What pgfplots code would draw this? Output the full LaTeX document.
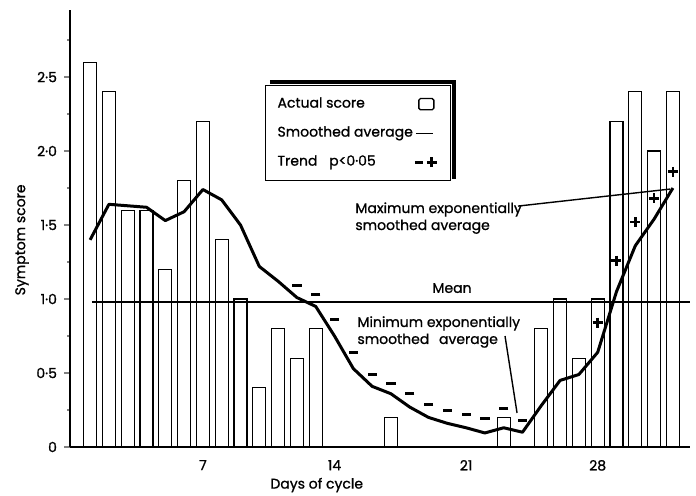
\documentclass[border=0pt]{standalone}
\usepackage{fontspec}
\setmainfont{Poppins}[UprightFeatures={FakeBold=1}]
\usepackage{pgfplots}
\pgfplotsset{compat=1.18}

\begin{document}
\begin{tikzpicture}
\path[use as bounding box] (0,0) rectangle (348pt,247.5pt);
\begin{axis}[
  at={(35pt,24pt)}, anchor=south west,
  scale only axis, width=310pt, height=218.5pt,
  xmin=-0.07, xmax=32.91, ymin=0, ymax=2.953,
  axis lines=left,
  axis line style={-, line width=1.3pt},
  xtick={7,14,21,28}, xticklabels={7,14,21,28},
  xtick style={draw=none},
  ytick={0,0.5,1,1.5,2,2.5}, yticklabels={0,0·5,1·0,1·5,2·0,2·5},
  minor ytick={0.25,0.75,1.25,1.75,2.25,2.75},
  ytick style={line width=0.8pt},
  tick align=outside, major tick length=3pt, minor tick length=1.5pt,
  ticklabel style={font=\fontsize{7}{8}\selectfont},
  xlabel={Days of cycle}, ylabel={Symptom score},
  xlabel style={at={(axis description cs:0.398,-0.087)}, anchor=center, font=\fontsize{7}{8}\selectfont},
  ylabel style={at={(axis description cs:-0.0774,0.474)}, anchor=center, font=\fontsize{7}{8}\selectfont},
  clip=false,
  legend style={name=leg, at={(axis cs:10.3,2.446)}, anchor=north west, draw=black, line width=0.6pt, fill=white,
    inner xsep=6pt, inner ysep=6pt, row sep=8pt, column sep=0pt,
    nodes={inner sep=0pt, text height=5pt, text depth=1.5pt, font=\fontsize{7}{8}\selectfont}},
  legend cell align=left, legend plot pos=right,
]
\addplot[ybar, bar width=0.69, bar shift=0pt, draw=black, fill=white, line width=0.65pt,
  legend image code/.code={\draw[line width=0.7pt, rounded corners=0.8pt, fill=white] (3pt,-2.8pt) rectangle (10.5pt,2.8pt); \path[draw=none,fill=none] (0pt,0pt) -- (13pt,0pt);}]
coordinates {(1,2.6) (2,2.4) (3,1.6) (4,1.6) (5,1.2) (6,1.8) (7,2.2) (8,1.4) (9,1.0) (10,0.4) (11,0.8) (12,0.6) (13,0.8) (17,0.2) (23,0.2) (25,0.8) (26,1.0) (27,0.6) (28,1.0) (29,2.2) (30,2.4) (31,2.0) (32,2.4)};
\addlegendentry{Actual score}
\addplot[line width=0.8pt, forget plot] coordinates {(1.1,0.98) (32.91,0.98)};
\addplot[line width=1.5pt, line join=round,
  legend image code/.code={\draw[line width=0.6pt] (1.5pt,0pt) -- (10pt,0pt); \path[draw=none,fill=none] (0pt,0pt) -- (13pt,0pt);}]
coordinates {(1,1.40) (2,1.64) (3,1.63) (4,1.62) (5,1.53) (6,1.59) (7,1.74) (8,1.67) (9,1.50) (10,1.22) (11,1.12) (12,1.01) (13,0.95) (14,0.75) (15,0.53) (16,0.41) (17,0.36) (18,0.27) (19,0.20) (20,0.16) (21,0.13) (22,0.095) (23,0.13) (24,0.10) (25,0.28) (26,0.45) (27,0.49) (28,0.64) (29,1.05) (30,1.36) (31,1.54) (32,1.75)};
\addlegendentry{Smoothed average}
\addplot[only marks, mark=-, mark size=2.3pt, mark options={line width=1.5pt},
  legend image code/.code={\draw[line width=1.4pt] (1pt,0pt) -- (5pt,0pt); \draw[line width=1.4pt] (7pt,0pt) -- (12pt,0pt) (9.5pt,-2.5pt) -- (9.5pt,2.5pt); \path[draw=none,fill=none] (0pt,0pt) -- (13pt,0pt);}]
coordinates {(12,1.09) (13,1.03) (14,0.86) (15,0.64) (16,0.49) (17,0.43) (18,0.36) (19,0.29) (20,0.25) (21,0.22) (22,0.19) (23,0.26) (24,0.18)};
\addlegendentry{Trend\hspace{4pt} p<0·05}
\addplot[only marks, mark=+, mark size=2.5pt, mark options={line width=1.3pt}, forget plot]
coordinates {(28,0.84) (29,1.26) (30,1.52) (31,1.68) (32,1.86)};

\node[anchor=west, align=left, inner sep=0pt, font=\fontsize{7}{8.5}\selectfont] at (axis cs:15.09,1.547) {Maximum exponentially\\smoothed average};
\draw[line width=0.7pt] (axis cs:23.76,1.628) -- (axis cs:31.85,1.743);
\node[anchor=west, align=left, inner sep=0pt, font=\fontsize{7}{8.5}\selectfont] at (axis cs:15.2,0.777) {Minimum exponentially\\smoothed\hspace{3pt} average};
\draw[line width=0.7pt] (axis cs:23.07,0.75) -- (axis cs:23.71,0.23);
\node[font=\fontsize{7}{8}\selectfont] at (axis cs:20.25,1.074) {Mean};
\end{axis}
\draw[line width=2pt] ([xshift=2.5pt,yshift=1.3pt]leg.north west) -- ([xshift=1.3pt,yshift=1.3pt]leg.north east) -- ([xshift=1.3pt,yshift=1pt]leg.south east);
\end{tikzpicture}
\end{document}
